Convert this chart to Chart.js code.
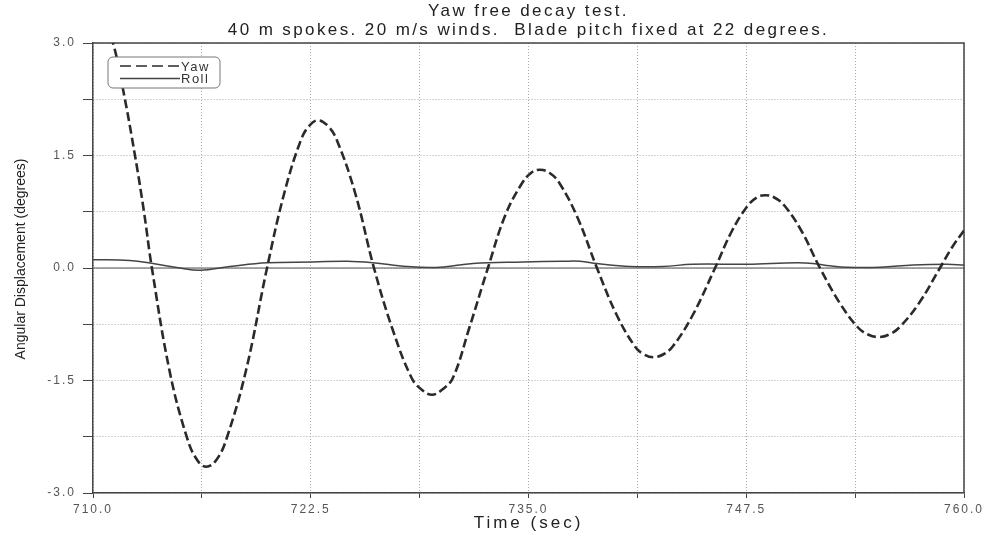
<!DOCTYPE html>
<html>
<head>
<meta charset="utf-8">
<script src="https://cdn.jsdelivr.net/npm/chart.js@4/dist/chart.umd.min.js"></script>
<style>
    html, body { margin: 0; padding: 0; background: #fff; }
    #wrap { width: 987px; height: 535px; position: relative; }
</style>
</head>
<body>
<div id="wrap"><canvas id="decayChart"></canvas></div>
<script>
// --- Data (time in sec, displacement in degrees) ---
const yawTime = [710.0, 710.5, 711.15, 711.75, 712.41, 712.92, 713.38, 714.42, 715.42, 715.98,
    716.5, 717.08, 717.66, 718.8, 719.99, 720.97, 721.94, 722.43, 722.92, 723.46,
    723.99, 725.06, 726.13, 727.2, 728.3, 728.91, 729.46, 730.0, 730.65, 731.6,
    732.67, 733.66, 734.6, 735.16, 735.66, 736.2, 736.78, 737.8, 738.93, 740.05,
    741.12, 741.62, 742.16, 742.75, 743.3, 744.4, 745.71, 746.67, 747.55, 748.1,
    748.58, 749.11, 749.7, 750.68, 751.73, 752.85, 753.9, 754.52, 755.08, 755.67,
    756.3, 757.44, 758.62, 759.3, 760.0];
const yawValues = [3.55, 3.4, 3.0, 2.35, 1.5, 0.76, 0.0, -1.4, -2.28, -2.56,
    -2.65, -2.56, -2.28, -1.35, 0.0, 0.99, 1.71, 1.9, 1.97, 1.9,
    1.71, 0.99, 0.0, -0.82, -1.47, -1.63, -1.69, -1.63, -1.47, -0.8,
    0.0, 0.7, 1.12, 1.27, 1.31, 1.27, 1.13, 0.68, 0.0, -0.62,
    -1.05, -1.15, -1.19, -1.15, -1.04, -0.64, 0.0, 0.49, 0.82, 0.94,
    0.97, 0.94, 0.83, 0.49, 0.0, -0.46, -0.79, -0.89, -0.92, -0.89,
    -0.79, -0.46, 0.0, 0.27, 0.5];

const rollTime = [710.0, 712.12, 713.44, 714.99, 716.14, 717.86, 719.99, 722.63, 724.58, 726.07,
    728.03, 729.92, 731.81, 734.68, 736.98, 737.96, 738.93, 740.83, 742.72, 744.41,
    747.53, 750.40, 751.33, 752.30, 753.28, 755.18, 757.07, 759.02, 760.0];
const rollValues = [0.11, 0.10, 0.06, 0.0, -0.03, 0.02, 0.07, 0.08, 0.09, 0.07,
    0.02, 0.01, 0.06, 0.08, 0.09, 0.09, 0.06, 0.02, 0.02, 0.05,
    0.05, 0.07, 0.06, 0.03, 0.01, 0.01, 0.04, 0.05, 0.04];

const titleLines = ['Yaw free decay test.', '40 m spokes. 20 m/s winds.  Blade pitch fixed at 22 degrees.'];
const yAxisTitle = 'Angular Displacement (degrees)';
const xAxisTitle = 'Time (sec)';

const toPoints = (xs, ys) => xs.map((x, i) => ({ x: x, y: ys[i] }));

// frame, zero line, legend and titles drawn around the library's own scales
const decoration = {
    id: 'decoration',
    beforeDraw(chart) {
        chart.ctx.letterSpacing = '2px';
    },
    beforeDatasetsDraw(chart) {
        const { ctx, chartArea: a, scales } = chart;
        const y0 = scales.y.getPixelForValue(0);
        ctx.save();
        ctx.strokeStyle = '#555';
        ctx.lineWidth = 1.2;
        ctx.beginPath();
        ctx.moveTo(a.left, y0);
        ctx.lineTo(a.right, y0);
        ctx.stroke();
        ctx.strokeStyle = '#444';
        ctx.lineWidth = 1.5;
        ctx.beginPath();
        ctx.moveTo(a.left, a.top);
        ctx.lineTo(a.right, a.top);
        ctx.lineTo(a.right, a.bottom);
        ctx.stroke();
        ctx.restore();
    },
    afterDatasetsDraw(chart) {
        const ctx = chart.ctx;
        const a = chart.chartArea;
        const bx = a.left + 15, by = a.top + 14, bw = 112, bh = 31;
        ctx.save();
        ctx.letterSpacing = '1.5px';
        ctx.fillStyle = '#fff';
        ctx.strokeStyle = '#777';
        ctx.lineWidth = 1;
        ctx.beginPath();
        ctx.roundRect(bx, by, bw, bh, 5);
        ctx.fill();
        ctx.stroke();
        chart.data.datasets.forEach((ds, i) => {
            const ly = by + 9 + i * 12.5;
            ctx.strokeStyle = ds.borderColor;
            ctx.lineWidth = 1.4;
            ctx.setLineDash(ds.borderDash ? [11, 5] : []);
            ctx.beginPath();
            ctx.moveTo(bx + 12, ly);
            ctx.lineTo(bx + 72, ly);
            ctx.stroke();
            ctx.setLineDash([]);
            ctx.fillStyle = '#333';
            ctx.font = '13px "Liberation Sans", Arial, sans-serif';
            ctx.textBaseline = 'middle';
            ctx.textAlign = 'left';
            ctx.fillText(ds.label, bx + 73, ly + 1);
        });
        ctx.restore();
    },
    afterDraw(chart) {
        const ctx = chart.ctx;
        const a = chart.chartArea;
        const cx = (a.left + a.right) / 2;
        ctx.save();
        ctx.fillStyle = '#222';
        ctx.textAlign = 'center';
        ctx.textBaseline = 'middle';
        ctx.letterSpacing = '2.4px';
        ctx.font = '17px "Liberation Sans", Arial, sans-serif';
        ctx.fillText(titleLines[0], cx, 11);
        ctx.fillText(titleLines[1], cx, 30);
        // x axis title
        ctx.letterSpacing = '3px';
        ctx.fillText(xAxisTitle, cx, 523);
        // rotated y axis title
        ctx.letterSpacing = '0px';
        ctx.font = '14px "Liberation Sans", Arial, sans-serif';
        ctx.translate(21, (a.top + a.bottom) / 2 - 9);
        ctx.rotate(-Math.PI / 2);
        ctx.fillText(yAxisTitle, 0, 0);
        ctx.restore();
    }
};

new Chart(document.getElementById('decayChart'), {
    type: 'line',
    data: {
        datasets: [
            {
                label: 'Yaw',
                data: toPoints(yawTime, yawValues),
                borderColor: '#2a2a2a',
                borderWidth: 2.6,
                borderDash: [9, 4],
                pointRadius: 0,
                tension: 0.4
            },
            {
                label: 'Roll',
                data: toPoints(rollTime, rollValues),
                borderColor: '#444',
                borderWidth: 1.5,
                pointRadius: 0,
                tension: 0.4
            }
        ]
    },
    options: {
        responsive: true,
        maintainAspectRatio: false,
        animation: false,
        layout: { padding: { top: 43, right: 23, left: 0, bottom: 0 } },
        plugins: {
            legend: { display: false },
            tooltip: { enabled: false }
        },
        scales: {
            x: {
                type: 'linear',
                min: 710,
                max: 760,
                ticks: {
                    stepSize: 6.25,
                    autoSkip: false,
                    maxRotation: 0,
                    padding: 4,
                    color: '#555',
                    font: { family: '"Liberation Sans", Arial, sans-serif', size: 12 },
                    callback: (v, i) => i % 2 === 0 ? v.toFixed(1) : ''
                },
                grid: { color: '#aaa', lineWidth: 1, tickLength: 5, tickColor: '#444' },
                border: { color: '#444', width: 1.5, dash: [1, 2] },
                afterFit: s => { s.height = 42; }
            },
            y: {
                min: -3,
                max: 3,
                ticks: {
                    stepSize: 0.75,
                    autoSkip: false,
                    padding: 7,
                    color: '#555',
                    font: { family: '"Liberation Sans", Arial, sans-serif', size: 12 },
                    callback: (v, i) => i % 2 === 0 ? v.toFixed(1) : ''
                },
                grid: { color: '#aaa', lineWidth: 1, tickLength: 10, tickColor: '#444' },
                border: { color: '#444', width: 1.5, dash: [1, 2] },
                afterFit: s => { s.width = 93; }
            }
        }
    },
    plugins: [decoration]
});
</script>
</body>
</html>
